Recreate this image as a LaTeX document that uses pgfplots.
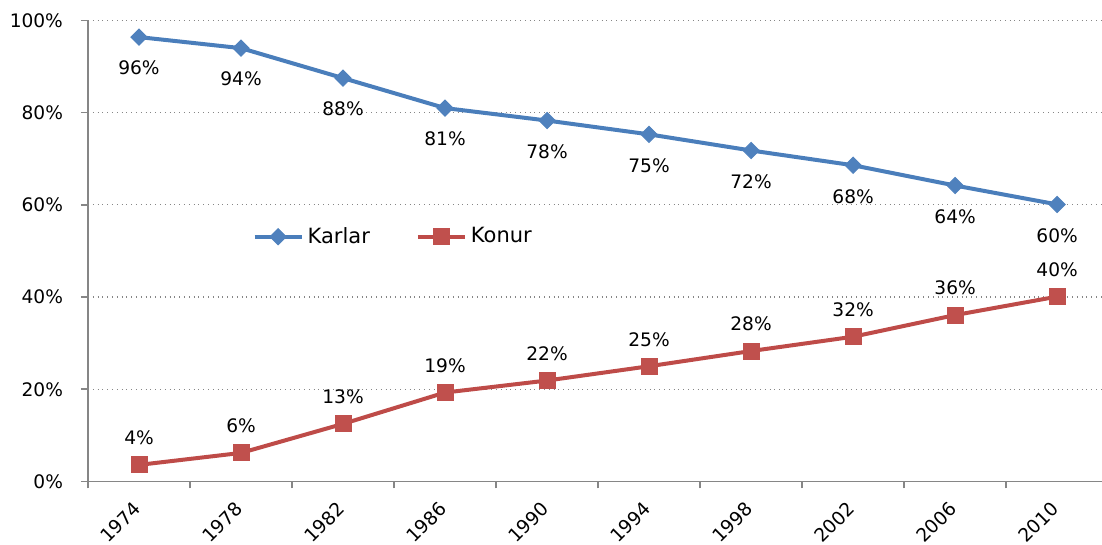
\documentclass[border=0pt]{standalone}
\usepackage{fontspec}
\setmainfont{DejaVu Sans}
\usepackage{pgfplots}
\pgfplotsset{compat=1.18}
\usepackage{pgfplotstable}
\definecolor{kblue}{HTML}{4A7EBB}
\definecolor{kbluem}{HTML}{4F81BD}
\definecolor{kred}{HTML}{BE4B48}
\definecolor{kredm}{HTML}{C0504D}
\definecolor{axgray}{HTML}{868686}

\pgfplotstableread{
x y lab
0 96.4 96
1 94.0 94
2 87.5 88
3 81.0 81
4 78.3 78
5 75.3 75
6 71.8 72
7 68.6 68
8 64.2 64
9 60.1 60
}\karlar

\pgfplotstableread{
x y lab
0 3.6 4
1 6.2 6
2 12.5 13
3 19.3 19
4 21.9 22
5 25.0 25
6 28.3 28
7 31.4 32
8 36.1 36
9 40.1 40
}\konur

\begin{document}
\begin{tikzpicture}
\begin{axis}[
  name=ax,
  scale only axis,
  width=507pt, height=230.5pt,
  xmin=-0.5, xmax=9.44,
  ymin=0, ymax=100,
  axis x line*=bottom, axis y line*=left,
  axis line style={draw=axgray, line width=0.8pt},
  tick align=outside,
  xtick={0,...,9},
  xticklabels={1974,1978,1982,1986,1990,1994,1998,2002,2006,2010},
  major x tick style={draw=none},
  minor xtick={-0.5,0.5,...,8.5},
  minor tick length=3.5pt,
  minor x tick style={draw=axgray, line width=0.8pt},
  ytick={0,20,...,100},
  yticklabels={0\%,20\%,40\%,60\%,80\%,100\%},
  major tick length=3.5pt,
  major y tick style={draw=axgray, line width=0.8pt},
  ymajorgrids,
  major grid style={dotted, draw=axgray, line width=0.6pt},
  ticklabel style={font=\fontsize{9.3}{10}\selectfont},
  yticklabel style={xshift=-5.5pt},
  xticklabel style={xshift=1.5pt, yshift=-6pt, rotate=45, anchor=east},
  legend style={at={(0.162,0.531)}, anchor=west, draw=none, fill=none,
    inner sep=0pt, font=\fontsize{10.5}{12}\selectfont, legend columns=2,
    /tikz/every even column/.append style={column sep=21pt}},
  legend image code/.code={\draw[mark repeat=2,mark phase=2,#1] plot coordinates {(0pt,0pt) (11.75pt,0pt) (23.5pt,0pt)};},
  point meta=explicit symbolic,
  nodes near coords={\pgfplotspointmeta\%},
  nodes near coords style={font=\fontsize{9.3}{10}\selectfont, text=black},
  clip=false,
]
\addplot[color=kblue, line width=2pt, mark=square*, mark size=2.85pt,
  mark options={solid, rotate=45, fill=kbluem, draw=kbluem, line width=0.5pt},
  every node near coord/.append style={anchor=center, yshift=-15.5pt}]
  table[x=x, y=y, meta=lab] {\karlar};
\addlegendentry{Karlar}
\addplot[color=kred, line width=2pt, mark=square*, mark size=4pt,
  mark options={solid, fill=kredm, draw=kredm, line width=0.5pt},
  every node near coord/.append style={anchor=center, yshift=13.5pt}]
  table[x=x, y=y, meta=lab] {\konur};
\addlegendentry{Konur}
\end{axis}
\pgfresetboundingbox
\path[use as bounding box] ([xshift=-44pt,yshift=-31.75pt]ax.south west) rectangle ([yshift=10.25pt]ax.north east);
\end{tikzpicture}
\end{document}
